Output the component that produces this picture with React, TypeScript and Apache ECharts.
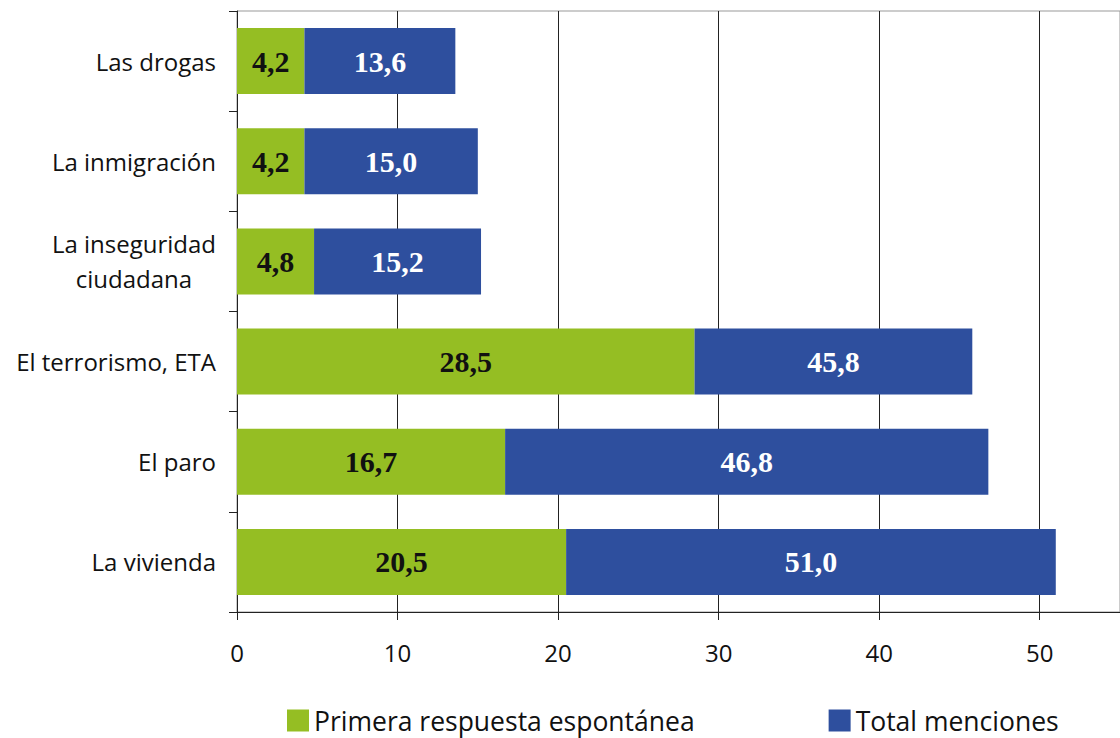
import React, { useEffect, useRef } from "react";
import * as echarts from "echarts";

const categories = [
  "Las drogas",
  "La inmigración",
  "La inseguridad\nciudadana",
  "El terrorismo, ETA",
  "El paro",
  "La vivienda",
];
const primera = [4.2, 4.2, 4.8, 28.5, 16.7, 20.5];
const total = [13.6, 15.0, 15.2, 45.8, 46.8, 51.0];
const xTicks = [0, 10, 20, 30, 40, 50];

const GREEN = "#95BE23";
const BLUE = "#2E4F9E";
const SANS = "'Open Sans', 'DejaVu Sans', sans-serif";
const SERIF = "'Liberation Serif', 'DejaVu Serif', serif";

const fmt = (v: number) => v.toFixed(1).replace(".", ",");

export default function App() {
  const ref = useRef<HTMLDivElement>(null);
  useEffect(() => {
    if (!ref.current) return;
    const chart = echarts.init(ref.current, undefined, { renderer: "svg" });
    const rest = total.map((t, i) => +(t - primera[i]).toFixed(2));
    chart.setOption({
      animation: false,
      grid: {
        left: 237,
        top: 11,
        width: 888,
        height: 601,
        show: true,
        borderColor: "#999",
        borderWidth: 1,
        backgroundColor: "transparent",
      },
      legend: {
        top: 707,
        left: 287,
        padding: 0,
        itemWidth: 22,
        itemHeight: 22,
        itemGap: 134,
        icon: "rect",
        textStyle: {
          fontFamily: SANS,
          fontSize: 26.5,
          lineHeight: 24,
          color: "#111",
        },
        data: [
          { name: "Primera respuesta espontánea", itemStyle: { color: GREEN } },
          { name: "Total menciones", itemStyle: { color: BLUE } },
        ],
      },
      xAxis: {
        type: "value",
        min: 0,
        max: 55,
        interval: 10,
        axisLine: { show: true, lineStyle: { color: "#222", width: 1 } },
        axisTick: { show: true, length: 8, lineStyle: { color: "#222" } },
        splitLine: { show: true, lineStyle: { color: "#222", width: 1 } },
        axisLabel: {
          margin: 28,
          fontFamily: SANS,
          fontSize: 24,
          color: "#111",
          showMaxLabel: false,
          formatter: (v: number) => (xTicks.includes(v) ? String(v) : ""),
        },
      },
      yAxis: {
        type: "category",
        inverse: true,
        data: categories,
        axisLine: { show: true, lineStyle: { color: "#222", width: 1 } },
        axisTick: { show: true, length: 8, lineStyle: { color: "#222" } },
        axisLabel: {
          margin: 21,
          fontFamily: SANS,
          fontSize: 24,
          color: "#111",
          formatter: (v: string) =>
            v.includes("\n")
              ? v
                  .split("\n")
                  .map((l) => `{c|${l}}`)
                  .join("\n")
              : v,
          rich: {
            c: {
              align: "center",
              fontFamily: SANS,
              fontSize: 24,
              color: "#111",
              lineHeight: 35,
            },
          },
        },
      },
      series: [
        {
          name: "Primera respuesta espontánea",
          type: "bar",
          stack: "s",
          barWidth: 66,
          itemStyle: { color: GREEN },
          data: primera,
          label: {
            show: true,
            position: "inside",
            fontFamily: SERIF,
            fontWeight: "bold",
            fontSize: 30,
            color: "#111",
            formatter: (p: any) => fmt(primera[p.dataIndex]),
          },
        },
        {
          name: "Total menciones",
          type: "bar",
          stack: "s",
          barWidth: 66,
          itemStyle: { color: BLUE },
          data: rest,
          label: {
            show: true,
            position: "inside",
            fontFamily: SERIF,
            fontWeight: "bold",
            fontSize: 30,
            color: "#fff",
            formatter: (p: any) => fmt(total[p.dataIndex]),
          },
        },
      ],
    });
    return () => chart.dispose();
  }, []);
  return (
    <div
      ref={ref}
      style={{ position: "absolute", left: 0, top: 0, width: 1120, height: 738 }}
    />
  );
}
